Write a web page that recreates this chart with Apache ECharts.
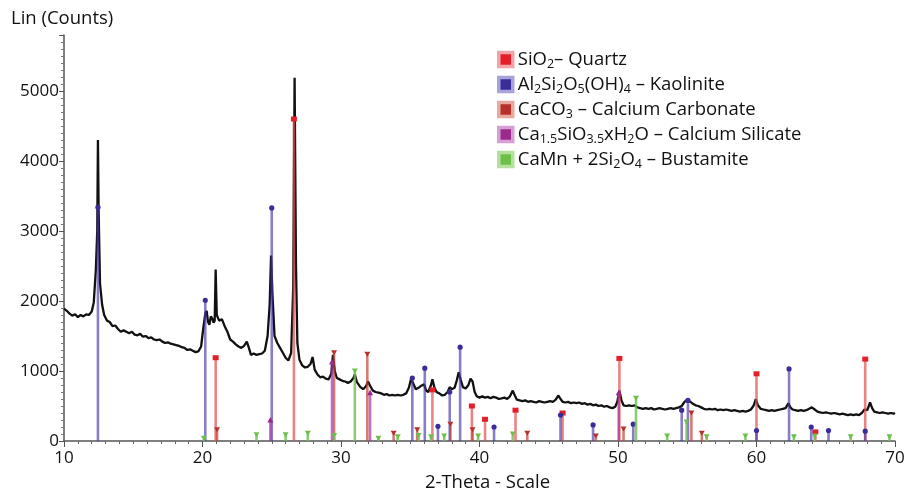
<!DOCTYPE html>
<html>
<head>
<meta charset="utf-8">
<script src="https://cdn.jsdelivr.net/npm/echarts@6/dist/echarts.min.js"></script>
<style>
html, body { margin: 0; padding: 0; background: #fff; }
#chart { width: 906px; height: 494px; }
</style>
</head>
<body>
<div id="chart"></div>
<script>
// measured XRD trace, [2-theta, counts]
var trace = [
  [10.0,1890],[10.2,1860],[10.4,1820],[10.6,1790],[10.8,1810],[11.0,1770],[11.2,1800],[11.4,1780],[11.6,1810],[11.8,1800],
  [12.0,1850],[12.15,1980],[12.3,2450],[12.4,3000],[12.45,4300],[12.5,3300],[12.6,2250],[12.75,1950],[12.9,1800],
  [13.1,1720],[13.3,1700],[13.5,1640],[13.7,1650],[13.9,1600],[14.1,1560],[14.3,1580],[14.5,1560],[14.7,1540],[14.9,1560],
  [15.1,1520],[15.3,1510],[15.5,1530],[15.7,1490],[15.9,1500],[16.1,1470],[16.3,1480],[16.5,1450],[16.7,1440],[16.9,1450],
  [17.1,1420],[17.3,1400],[17.5,1410],[17.7,1390],[17.9,1380],[18.1,1370],[18.3,1360],[18.5,1340],[18.7,1330],[18.9,1300],
  [19.1,1310],[19.3,1290],[19.5,1270],[19.7,1280],[19.9,1350],[20.05,1600],[20.2,1820],[20.3,1860],[20.4,1700],[20.5,1660],
  [20.6,1780],[20.7,1750],[20.8,1690],[20.88,1720],[20.95,2450],[21.03,1800],[21.2,1720],[21.4,1740],[21.6,1640],[21.8,1560],
  [22.0,1450],[22.2,1420],[22.4,1380],[22.6,1350],[22.8,1330],[23.0,1360],[23.2,1420],[23.35,1330],[23.5,1230],[23.7,1250],
  [23.9,1230],[24.1,1240],[24.3,1250],[24.5,1290],[24.7,1500],[24.85,1950],[24.95,2650],[25.05,2100],[25.2,1500],[25.4,1400],
  [25.6,1330],[25.8,1260],[26.0,1190],[26.2,1150],[26.4,1260],[26.55,2200],[26.65,5190],[26.75,2500],[26.85,1400],[27.0,1160],
  [27.2,1080],[27.4,1050],[27.6,1060],[27.8,1100],[27.95,1200],[28.1,1020],[28.3,950],[28.5,910],[28.7,920],[28.9,890],
  [29.1,880],[29.3,960],[29.42,1230],[29.55,1000],[29.7,900],[29.9,880],[30.1,860],[30.3,850],[30.5,830],[30.7,850],
  [30.9,900],[31.0,950],[31.15,840],[31.4,770],[31.6,740],[31.8,780],[31.95,850],[32.1,790],[32.3,720],[32.5,700],
  [32.7,690],[32.9,680],[33.1,660],[33.3,670],[33.5,650],[33.7,660],[33.9,650],[34.1,660],[34.3,650],[34.5,660],
  [34.7,680],[34.9,760],[35.05,880],[35.2,830],[35.4,740],[35.6,760],[35.8,790],[36.0,810],[36.15,720],[36.3,700],
  [36.5,800],[36.6,880],[36.75,760],[36.9,700],[37.1,680],[37.3,650],[37.5,660],[37.7,700],[37.85,770],[38.0,740],
  [38.2,760],[38.35,860],[38.5,980],[38.65,870],[38.8,770],[39.0,750],[39.2,800],[39.35,890],[39.5,850],[39.65,700],
  [39.8,640],[40.0,620],[40.2,640],[40.4,620],[40.6,630],[40.8,610],[41.0,630],[41.2,620],[41.4,600],[41.6,610],
  [41.8,620],[42.0,600],[42.2,640],[42.4,720],[42.55,650],[42.7,590],[42.9,580],[43.1,570],[43.3,580],[43.5,560],
  [43.7,570],[43.9,560],[44.1,550],[44.3,570],[44.5,560],[44.7,550],[44.9,560],[45.1,570],[45.3,560],[45.5,590],
  [45.7,650],[45.85,600],[46.0,560],[46.2,550],[46.4,560],[46.6,540],[46.8,550],[47.0,540],[47.2,550],[47.4,530],
  [47.6,540],[47.8,520],[48.0,530],[48.2,510],[48.4,520],[48.6,500],[48.8,510],[49.0,490],[49.2,500],[49.4,480],
  [49.6,470],[49.8,490],[49.95,560],[50.1,720],[50.25,580],[50.4,510],[50.6,500],[50.8,510],[51.0,500],[51.2,510],
  [51.4,480],[51.6,470],[51.8,460],[52.0,470],[52.2,460],[52.4,470],[52.6,450],[52.8,460],[53.0,470],[53.2,460],
  [53.4,450],[53.6,460],[53.8,470],[54.0,460],[54.2,470],[54.4,480],[54.6,500],[54.8,560],[55.0,590],[55.15,570],
  [55.35,540],[55.6,510],[55.8,500],[56.0,480],[56.2,460],[56.4,450],[56.6,460],[56.8,450],[57.0,460],[57.2,440],
  [57.4,450],[57.6,440],[57.8,450],[58.0,440],[58.2,430],[58.4,440],[58.6,430],[58.8,420],[59.0,430],[59.2,420],
  [59.4,430],[59.6,450],[59.8,510],[59.95,600],[60.1,510],[60.3,460],[60.5,450],[60.7,440],[60.9,430],[61.1,440],
  [61.3,430],[61.5,440],[61.7,450],[61.9,460],[62.1,470],[62.3,540],[62.45,480],[62.6,450],[62.8,440],[63.0,430],
  [63.2,440],[63.4,430],[63.6,440],[63.8,460],[64.0,480],[64.2,450],[64.4,420],[64.6,410],[64.8,400],[65.0,410],
  [65.2,400],[65.4,390],[65.6,400],[65.8,390],[66.0,380],[66.2,390],[66.4,380],[66.6,370],[66.8,380],[67.0,370],
  [67.2,380],[67.4,370],[67.6,400],[67.8,450],[68.0,440],[68.2,550],[68.35,470],[68.5,420],[68.7,410],[68.9,400],
  [69.1,410],[69.3,400],[69.5,390],[69.7,400],[69.9,390],[70.0,400]
];

// reference sticks per phase, [2-theta, counts]
var quartz = [[20.95,1190],[26.6,4600],[36.6,730],[39.45,500],[40.4,310],[42.6,440],[46.0,400],[50.1,1180],[60.0,960],[64.25,130],[67.85,1170]];
var kaolinite = [[12.45,3340],[20.2,2010],[25.0,3330],[35.15,900],[36.05,1040],[37.0,210],[37.85,700],[38.6,1340],[41.05,200],[45.85,370],[48.2,230],[51.1,240],[54.6,440],[55.05,580],[60.0,150],[62.35,1030],[63.95,200],[65.2,150],[67.85,140]];
var calcite = [[21.05,160],[29.5,1260],[31.9,1240],[33.8,110],[35.5,160],[37.9,240],[39.5,160],[43.45,110],[48.4,70],[50.4,170],[55.3,400],[56.05,110]];
var silicate = [[24.9,300],[29.35,1130],[32.1,690],[50.05,690]];
var bustamite = [[20.1,40],[23.9,90],[26.0,90],[27.6,110],[29.5,80],[31.0,1000],[32.7,40],[34.1,60],[35.6,80],[36.5,60],[37.45,70],[39.9,70],[42.4,100],[51.3,610],[53.55,70],[54.95,270],[56.4,60],[59.2,70],[62.7,60],[64.2,70],[66.8,60],[69.6,60]];

var phaseNames = ['SiO2 – Quartz', 'Al2Si2O5(OH)4 – Kaolinite', 'CaCO3 – Calcium Carbonate', 'Ca1.5SiO3.5xH2O – Calcium Silicate', 'CaMn + 2Si2O4 – Bustamite'];
var phaseLabels = [
  '{n|SiO}{s|2}{n|– Quartz}',
  '{n|Al}{s|2}{n|Si}{s|2}{n|O}{s|5}{n|(OH)}{s|4}{n| – Kaolinite}',
  '{n|CaCO}{s|3}{n| – Calcium Carbonate}',
  '{n|Ca}{s|1.5}{n|SiO}{s|3.5}{n|xH}{s|2}{n|O – Calcium Silicate}',
  '{n|CaMn + 2Si}{s|2}{n|O}{s|4}{n| – Bustamite}'
];

var FONT = 'Open Sans';

function markerShape(kind, p, color) {
  var x = p[0], y = p[1];
  if (kind == 'square') return { type: 'rect', shape: { x: x - 3, y: y - 2.5, width: 6, height: 5 }, style: { fill: color } };
  if (kind == 'circle') return { type: 'circle', shape: { cx: x, cy: y, r: 2.6 }, style: { fill: color } };
  if (kind == 'up') return { type: 'polygon', shape: { points: [[x - 3, y + 2.5], [x + 3, y + 2.5], [x, y - 3]] }, style: { fill: color } };
  return { type: 'polygon', shape: { points: [[x - 3, y - 2.5], [x + 3, y - 2.5], [x, y + 2.5]] }, style: { fill: color } };
}

function stickSeries(name, data, lineColor, markColor, kind) {
  return {
    name: name,
    type: 'custom',
    data: data,
    z: 3,
    itemStyle: { color: markColor },
    renderItem: function (params, api) {
      var top = api.coord([api.value(0), api.value(1)]);
      var base = api.coord([api.value(0), 0]);
      return {
        type: 'group',
        children: [
          { type: 'line', shape: { x1: base[0], y1: base[1], x2: top[0], y2: top[1] }, style: { stroke: lineColor, lineWidth: 2.6 } },
          markerShape(kind, top, markColor)
        ]
      };
    }
  };
}

var legendLight = ['#f2a5a8', '#a9a3dc', '#e8a99e', '#d6a0d6', '#b5e09e'];
var legendDark = ['#e3202a', '#3a2d9a', '#b8302a', '#9c2a8c', '#6cc04a'];

var myChart = echarts.init(document.getElementById('chart'));
var option = {
  animation: false,
  textStyle: { fontFamily: FONT },
  title: {
    text: 'Lin (Counts)',
    left: 6,
    top: 4,
    textStyle: { fontFamily: FONT, fontSize: 18.5, fontWeight: 'normal', color: '#111' }
  },
  grid: { left: 64, right: 11, top: 35, bottom: 53, containLabel: false, outerBoundsMode: 'none' },
  legend: {
    orient: 'vertical',
    left: 492,
    top: 43,
    itemGap: 2,
    itemWidth: 14,
    itemHeight: 14,
    data: phaseNames.map(function (n, i) {
      return { name: n, icon: 'rect', itemStyle: { color: legendDark[i], borderColor: legendLight[i], borderWidth: 3.5 } };
    }),
    formatter: function (name) {
      return phaseLabels[phaseNames.indexOf(name)];
    },
    textStyle: {
      rich: {
        n: { fontFamily: FONT, fontSize: 18.5, lineHeight: 21, color: '#111' },
        s: { fontFamily: FONT, fontSize: 12.5, lineHeight: 12, padding: [10, 0, 0, 0], color: '#111' }
      }
    }
  },
  xAxis: {
    type: 'value',
    min: 10,
    max: 70,
    interval: 10,
    name: '2-Theta - Scale',
    nameLocation: 'middle',
    nameGap: 32,
    nameTextStyle: { fontFamily: FONT, fontSize: 18.5, color: '#111', padding: [0, 0, 0, 16] },
    axisLine: { lineStyle: { color: '#555', width: 1.5 } },
    axisTick: { show: true, length: 6, lineStyle: { color: '#555' } },
    minorTick: { show: true, splitNumber: 10, length: 3, lineStyle: { color: '#666' } },
    splitLine: { show: false },
    axisLabel: { fontFamily: FONT, fontSize: 17, color: '#111', margin: 9 }
  },
  yAxis: {
    type: 'value',
    min: 0,
    max: 5800,
    interval: 1000,
    axisLine: { show: true, lineStyle: { color: '#555', width: 1.5 } },
    axisTick: { show: true, length: 5, lineStyle: { color: '#555' } },
    minorTick: { show: true, splitNumber: 10, length: 3, lineStyle: { color: '#777' } },
    splitLine: { show: false },
    axisLabel: {
      fontFamily: FONT, fontSize: 17, color: '#111', margin: 5, showMaxLabel: false,
      formatter: function (v) { return String(v); }
    }
  },
  series: [
    {
      name: 'trace',
      type: 'line',
      data: trace,
      showSymbol: false,
      z: 2,
      lineStyle: { color: '#111', width: 2.3 }
    },
    stickSeries(phaseNames[0], quartz, 'rgba(225,80,80,0.7)', legendDark[0], 'square'),
    stickSeries(phaseNames[1], kaolinite, 'rgba(70,55,170,0.65)', legendDark[1], 'circle'),
    stickSeries(phaseNames[2], calcite, 'rgba(190,70,60,0.7)', legendDark[2], 'down'),
    stickSeries(phaseNames[3], silicate, 'rgba(165,55,160,0.7)', legendDark[3], 'up'),
    stickSeries(phaseNames[4], bustamite, 'rgba(110,190,80,0.8)', legendDark[4], 'down')
  ]
};
myChart.setOption(option);
</script>
</body>
</html>
